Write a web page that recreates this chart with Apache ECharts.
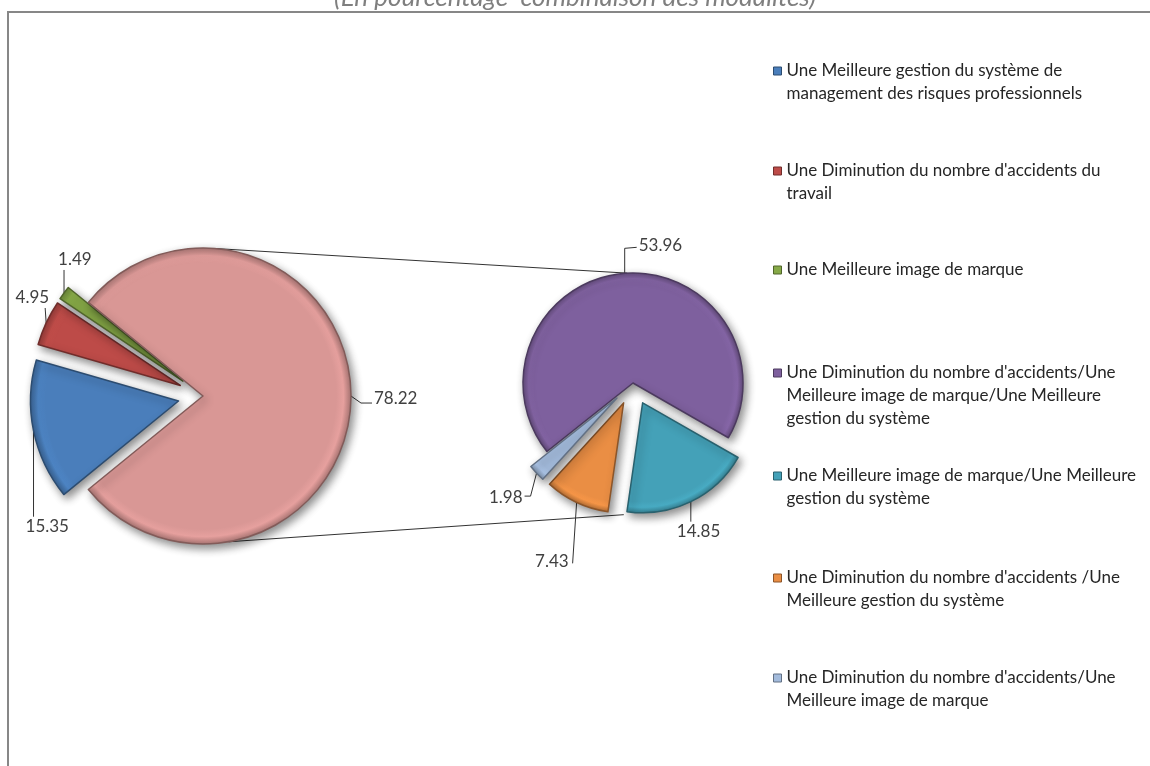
<!DOCTYPE html>
<html>
<head>
<meta charset="utf-8">
<script src="https://cdn.jsdelivr.net/npm/echarts@6/dist/echarts.min.js"></script>
<style>
  html, body { margin: 0; padding: 0; background: #fff; }
  #chart { width: 1150px; height: 766px; }
</style>
</head>
<body>
<div id="chart"></div>
<script>
// premier camembert (modalités simples + part combinée)
const mainNames = [
  'Une Meilleure gestion du système de management des risques professionnels',
  "Une Diminution du nombre d'accidents du travail",
  'Une Meilleure image de marque',
  'Combinaison des modalités'
];
const mainValues = [15.35, 4.95, 1.49, 78.22];

// second camembert : détail de la part combinée
const detailNames = [
  "Une Diminution du nombre d'accidents/Une Meilleure image de marque/Une Meilleure gestion du système",
  'Une Meilleure image de marque/Une Meilleure gestion du système',
  "Une Diminution du nombre d'accidents /Une Meilleure gestion du système",
  "Une Diminution du nombre d'accidents/Une Meilleure image de marque"
];
const detailValues = [53.96, 14.85, 7.43, 1.98];

// libellés de légende coupés comme sur l'original
const legendLabels = [
  'Une Meilleure gestion du système de\nmanagement des risques professionnels',
  "Une Diminution du nombre d'accidents du\ntravail",
  'Une Meilleure image de marque',
  "Une Diminution du nombre d'accidents/Une\nMeilleure image de marque/Une Meilleure\ngestion du système",
  'Une Meilleure image de marque/Une Meilleure\ngestion du système',
  "Une Diminution du nombre d'accidents /Une\nMeilleure gestion du système",
  "Une Diminution du nombre d'accidents/Une\nMeilleure image de marque"
];

const mainColors = ['#4a7ebb', '#bd4b48', '#86a947', '#d99795'];
const detailColors = ['#7e609e', '#44a1b8', '#ea8e44', '#a3bbdc'];

const FONT = 'Lato';
const LEFT = { cx: 203, cy: 396, r: 148, off: 25, start: 219.2, exploded: [true, true, true, false] };
const RIGHT = { cx: 633, cy: 383, r: 110, off: 22, start: 218.5, exploded: [false, true, true, true] };

// placement des étiquettes relativement au point d'ancrage sur l'arc
const leftLabelSpec = [
  { line: [[0, 0], [0, 86]], at: [-8, 87], align: 'left', va: 'top' },
  { line: [[0, 0], [-1, -15]], at: [3, -17], align: 'right', va: 'bottom' },
  { line: [[0, 0], [0, -23]], at: [-6, -25], align: 'left', va: 'bottom' },
  { line: [[0, 0], [10, 7], [21, 7]], at: [23, 2], align: 'left', va: 'middle' }
];
const rightLabelSpec = [
  { line: [[0, 0], [0, -25], [12, -26]], at: [14, -28], align: 'left', va: 'middle' },
  { line: [[0, 0], [0, 20]], at: [-14, 21], align: 'left', va: 'top' },
  { line: [[0, 0], [-4, 61]], at: [-8, 59], align: 'right', va: 'middle' },
  { line: [[0, 0], [-6, 23], [-12, 23]], at: [-14, 24], align: 'right', va: 'middle' }
];

function darker(hex, k) {
  const n = parseInt(hex.slice(1), 16);
  const r = Math.min(255, Math.round(((n >> 16) & 255) * k));
  const g = Math.min(255, Math.round(((n >> 8) & 255) * k));
  const b = Math.min(255, Math.round((n & 255) * k));
  return 'rgb(' + r + ',' + g + ',' + b + ')';
}

// dégradé radial pour imiter le biseau d'Excel
function sliceStyle(color, center, r) {
  return {
    color: {
      type: 'radial', global: true, x: center[0], y: center[1], r: r,
      colorStops: [
        { offset: 0, color: color },
        { offset: 0.9, color: color },
        { offset: 0.95, color: darker(color, 1.06) },
        { offset: 1, color: darker(color, 0.8) }
      ]
    },
    borderColor: darker(color, 0.6),
    borderWidth: 1.5,
    shadowBlur: 8,
    shadowOffsetX: 3,
    shadowOffsetY: 4,
    shadowColor: 'rgba(0,0,0,0.45)'
  };
}

function makeLabelLayout(s) {
  return function (params) {
    const pts = params.labelLinePoints;
    if (params.dataIndex !== 0 || !pts) return {};
    const a = pts[0];
    return {
      x: a[0] + s.at[0],
      y: a[1] + s.at[1],
      align: s.align,
      verticalAlign: s.va,
      labelLinePoints: s.line.map(p => [a[0] + p[0], a[1] + p[1]])
    };
  };
}

const labelCommon = {
  show: true,
  position: 'outside',
  formatter: p => p.value.toFixed(2),
  color: '#404040',
  fontFamily: FONT,
  fontSize: 17
};
const lineCommon = { show: true, length: 10, length2: 10, lineStyle: { color: '#333', width: 1 } };

// chaque part est une série : les parts « éclatées » ont leur centre décalé sur la bissectrice
function buildPie(base, names, values, colors, spec) {
  const total = values.reduce((s, v) => s + v, 0);
  let acc = 0;
  return values.map((v, i) => {
    const a0 = base.start - acc / total * 360;
    const span = v / total * 360;
    acc += v;
    const mid = (a0 - span / 2) * Math.PI / 180;
    const off = base.exploded[i] ? base.off : 0;
    const center = [base.cx + Math.cos(mid) * off, base.cy - Math.sin(mid) * off];
    return {
      type: 'pie',
      silent: true,
      center: center,
      radius: base.r,
      startAngle: a0,
      clockwise: true,
      avoidLabelOverlap: false,
      label: labelCommon,
      labelLine: lineCommon,
      labelLayout: makeLabelLayout(spec[i]),
      data: [
        { name: names[i], value: v, itemStyle: sliceStyle(colors[i], center, base.r) },
        {
          name: '',
          value: total - v,
          itemStyle: { color: 'rgba(0,0,0,0)', borderWidth: 0, shadowBlur: 0, shadowColor: 'rgba(0,0,0,0)' },
          label: { show: false },
          labelLine: { show: false }
        }
      ]
    };
  });
}

// une légende par entrée pour reproduire l'espacement régulier
const legendCenters = [71, 171, 270, 373, 476, 578, 678];
const LH = 23;
const legendNames = mainNames.slice(0, 3).concat(detailNames);
const legendColors = mainColors.slice(0, 3).concat(detailColors);
const legends = legendNames.map((name, i) => {
  const n = legendLabels[i].split('\n').length;
  const blockH = (2 * n - 1) * LH;
  return {
    data: [{ name: name, itemStyle: { color: legendColors[i], borderColor: darker(legendColors[i], 0.6), borderWidth: 1 } }],
    left: 773,
    top: legendCenters[i] - blockH / 2,
    orient: 'vertical',
    padding: 0,
    itemWidth: 8,
    itemHeight: 8,
    icon: 'rect',
    selectedMode: false,
    formatter: () => '\n'.repeat(n - 1) + legendLabels[i],
    textStyle: { color: '#262626', fontFamily: FONT, fontSize: 17, lineHeight: LH }
  };
});

function onCircle(c, ang, rad) {
  const t = ang * Math.PI / 180;
  return [c.cx + Math.cos(t) * rad, c.cy - Math.sin(t) * rad];
}
const topA = onCircle(LEFT, 85, LEFT.r), topB = onCircle(RIGHT, 93, RIGHT.r);
const botA = onCircle(LEFT, -80, LEFT.r), botB = onCircle(RIGHT, -94, RIGHT.r + RIGHT.off);

const chart = echarts.init(document.getElementById('chart'));
chart.setOption({
  animation: false,
  backgroundColor: '#fff',
  title: {
    text: '(En pourcentage  combinaison des modalités)',
    left: 'center',
    top: -15,
    padding: 0,
    textStyle: { fontStyle: 'italic', fontWeight: 'normal', color: '#7f7f7f', fontFamily: FONT, fontSize: 26 }
  },
  legend: legends,
  graphic: [
    { type: 'rect', z: -10, shape: { x: 8, y: 12, width: 1300, height: 900 }, style: { fill: 'none', stroke: '#878787', lineWidth: 2 } },
    { type: 'line', z: -5, shape: { x1: topA[0], y1: topA[1], x2: topB[0], y2: topB[1] }, style: { stroke: '#333', lineWidth: 1 } },
    { type: 'line', z: -5, shape: { x1: botA[0], y1: botA[1], x2: botB[0], y2: botB[1] }, style: { stroke: '#333', lineWidth: 1 } }
  ],
  series: buildPie(LEFT, mainNames, mainValues, mainColors, leftLabelSpec)
    .concat(buildPie(RIGHT, detailNames, detailValues, detailColors, rightLabelSpec))
});
</script>
</body>
</html>
